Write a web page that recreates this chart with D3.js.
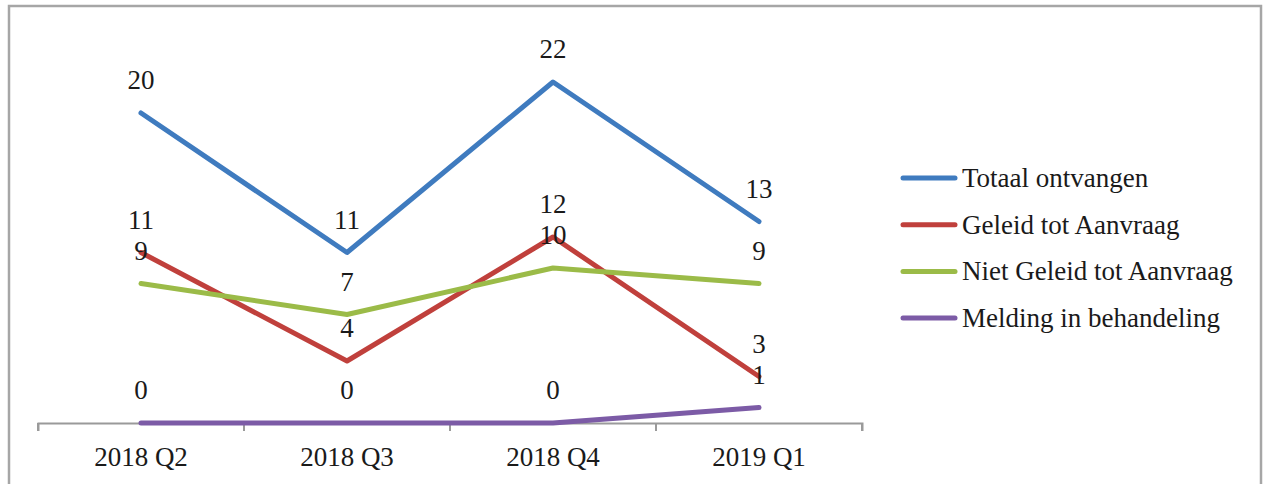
<!DOCTYPE html>
<html><head><meta charset="utf-8">
<script src="https://cdn.jsdelivr.net/npm/d3@7"></script>
<style>body{margin:0;background:#fff}svg{display:block}text{font-family:"Liberation Serif","DejaVu Serif",serif;fill:#1a1a1a}</style>
</head><body>
<script>
const categories = ["2018 Q2", "2018 Q3", "2018 Q4", "2019 Q1"];
const seriesNames = ["Totaal ontvangen", "Geleid tot Aanvraag", "Niet Geleid tot Aanvraag", "Melding in behandeling"];
const totaal = [20, 11, 22, 13];
const geleid = [11, 4, 12, 3];
const nietGeleid = [9, 7, 10, 9];
const melding = [0, 0, 0, 1];
const colors = ["#3f7bbf", "#c0403c", "#9bbb48", "#7c5ba6"];

const series = [totaal, geleid, nietGeleid, melding].map((v, i) => ({name: seriesNames[i], values: v, color: colors[i]}));

const W = 1266, H = 484, FS = 27;
const svg = d3.select("body").append("svg").attr("width", W).attr("height", H);

// outer frame
svg.append("path").attr("d", `M9,${H} L9,6 L1261,6 L1261,${H}`).attr("fill", "none").attr("stroke", "#a6a6a6").attr("stroke-width", 2.5);

const x = d3.scaleBand().domain(categories).range([38, 862]);
const y = d3.scaleLinear().domain([0, 24]).range([423, 51]);

const xAxis = d3.axisBottom(x).tickSize(8).tickSizeOuter(8).tickFormat(d => d);
const gx = svg.append("g").attr("transform", "translate(0,423)").call(xAxis);
gx.select(".domain").attr("stroke", "#9a9a9a").attr("stroke-width", 2);
gx.selectAll(".tick line").remove();
// boundary ticks
const bounds = categories.map(c => x(c)).concat([x(categories[3]) + x.bandwidth()]);
gx.selectAll(".bt").data(bounds).enter().append("line")
  .attr("x1", d => d).attr("x2", d => d).attr("y1", 0).attr("y2", 8)
  .attr("stroke", "#9a9a9a").attr("stroke-width", 2);
gx.selectAll(".tick text").attr("font-size", FS).attr("y", 43).attr("dy", 0).attr("fill", "#1a1a1a")
  .style("font-family", '"Liberation Serif","DejaVu Serif",serif');

const cx = c => x(c) + x.bandwidth() / 2;
const line = d3.line().x((d, i) => cx(categories[i])).y(d => y(d));

series.forEach(s => {
  svg.append("path").datum(s.values).attr("d", line).attr("fill", "none")
    .attr("stroke", s.color).attr("stroke-width", 5).attr("stroke-linecap", "round").attr("stroke-linejoin", "round");
});
series.forEach(s => {
  svg.selectAll(null).data(s.values).enter().append("text")
    .attr("x", (d, i) => cx(categories[i])).attr("y", d => y(d) - 24)
    .attr("text-anchor", "middle").attr("font-size", FS).text(d => d);
});

// legend
const lg = svg.append("g");
series.forEach((s, i) => {
  const ly = 178 + i * 46.7;
  lg.append("line").attr("x1", 903).attr("x2", 955).attr("y1", ly).attr("y2", ly)
    .attr("stroke", s.color).attr("stroke-width", 5).attr("stroke-linecap", "round");
  lg.append("text").attr("x", 962).attr("y", ly + 9).attr("font-size", FS).text(s.name);
});
</script>
</body></html>
